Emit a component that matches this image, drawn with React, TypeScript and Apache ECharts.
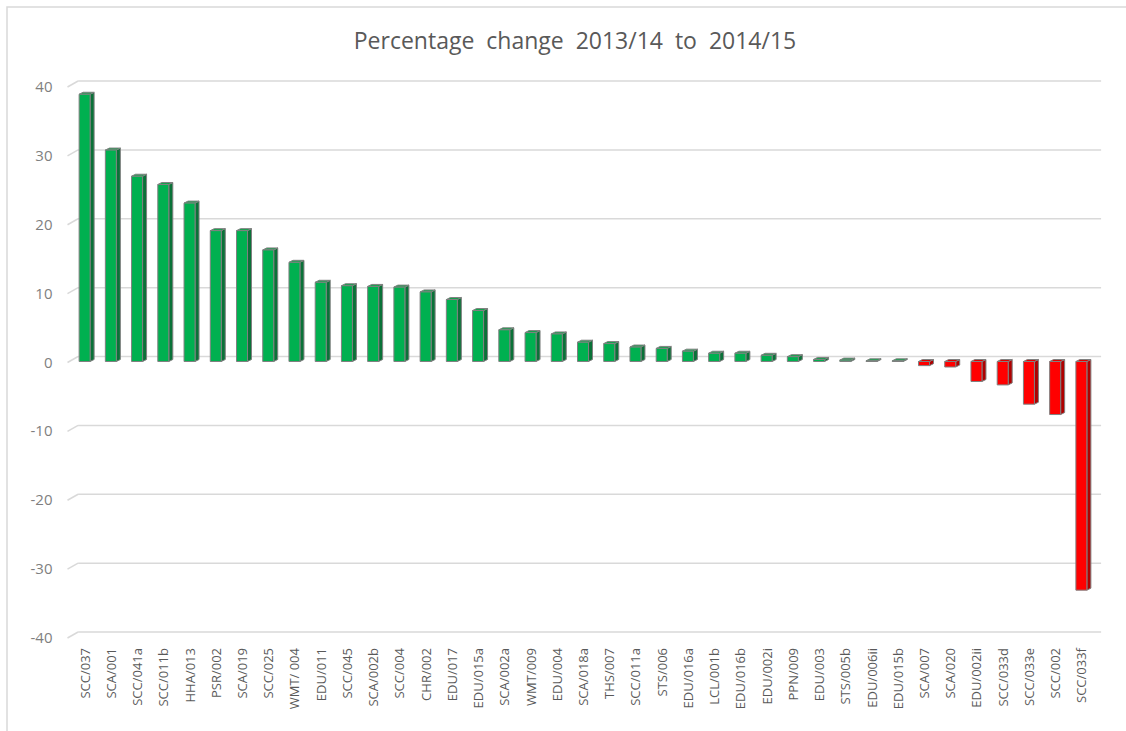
import React, { useEffect, useRef } from "react";
import * as echarts from "echarts";

// Indicator codes, in chart order
const categories: string[] = [
  "SCC/037", "SCA/001", "SCC/041a", "SCC/011b", "HHA/013", "PSR/002", "SCA/019", "SCC/025",
  "WMT/ 004", "EDU/011", "SCC/045", "SCA/002b", "SCC/004", "CHR/002", "EDU/017", "EDU/015a",
  "SCA/002a", "WMT/009", "EDU/004", "SCA/018a", "THS/007", "SCC/011a", "STS/006", "EDU/016a",
  "LCL/001b", "EDU/016b", "EDU/002i", "PPN/009", "EDU/003", "STS/005b", "EDU/006ii", "EDU/015b",
  "SCA/007", "SCA/020", "EDU/002ii", "SCC/033d", "SCC/033e", "SCC/002", "SCC/033f",
];

// Percentage change 2013/14 to 2014/15
const changes: number[] = [
  38.8, 30.7, 26.9, 25.7, 23.0, 19.0, 19.0, 16.2,
  14.4, 11.5, 11.0, 10.9, 10.8, 10.1, 9.0, 7.4,
  4.6, 4.2, 4.0, 2.8, 2.6, 2.1, 1.9, 1.5,
  1.2, 1.2, 0.9, 0.7, 0.3, 0.2, 0.1, 0.1,
  -0.6, -0.8, -2.9, -3.4, -6.2, -7.7, -33.2,
];

// Value-axis ticks
const yTicks: number[] = [-40, -30, -20, -10, 0, 10, 20, 30, 40];

const TITLE = "Percentage  change  2013/14  to  2014/15";

// Depth offsets of the back wall relative to the front plane
const WALL_DX = 6.6;
const WALL_DY = -5;
// 3D column geometry
const BAR_W = 11;
const SIDE_DX = 4;
const SIDE_DY = -2;

const GREEN = { front: "#00b050", side: "#0a7238", top: "#14a04c" };
const RED = { front: "#ff0000", side: "#b00000", top: "#e00000" };
const EDGE = "#808080";

export default function App() {
  const ref = useRef<HTMLDivElement>(null);

  useEffect(() => {
    if (!ref.current) return;
    const chart = echarts.init(ref.current, undefined, { renderer: "svg" });

    // Back-wall gridlines plus the short floor-edge stubs on the left
    const wallRender = (params: any, api: any) => {
      const cs = params.coordSys;
      const v = api.value(0);
      const y = api.coord([0, v])[1];
      const x0 = cs.x + WALL_DX;
      const x1 = cs.x + cs.width + WALL_DX;
      const lineStyle = { stroke: "#d9d9d9", lineWidth: 1.5, fill: null };
      return {
        type: "group",
        children: [
          { type: "line", shape: { x1: x0, y1: y + WALL_DY, x2: x1, y2: y + WALL_DY }, style: lineStyle },
          { type: "line", shape: { x1: cs.x - 4, y1: y + 1, x2: x0, y2: y + WALL_DY }, style: lineStyle },
        ],
      };
    };

    // 3D column: right side face, top face, then the front face
    const barRender = (_params: any, api: any) => {
      const idx = api.value(0);
      const v = api.value(1);
      const pv = api.coord([idx, v]);
      const p0 = api.coord([idx, 0]);
      const c = v >= 0 ? GREEN : RED;
      const xl = pv[0] - BAR_W / 2;
      const xr = xl + BAR_W;
      const yTop = Math.min(pv[1], p0[1]);
      const yBot = Math.max(pv[1], p0[1]);
      const stroke = { stroke: EDGE, lineWidth: 1 };
      return {
        type: "group",
        children: [
          {
            type: "polygon",
            shape: {
              points: [
                [xr, yTop], [xr + SIDE_DX, yTop + SIDE_DY],
                [xr + SIDE_DX, yBot + SIDE_DY], [xr, yBot],
              ],
            },
            style: { fill: c.side, ...stroke },
          },
          {
            type: "polygon",
            shape: {
              points: [
                [xl, yTop], [xl + SIDE_DX, yTop + SIDE_DY],
                [xr + SIDE_DX, yTop + SIDE_DY], [xr, yTop],
              ],
            },
            style: { fill: c.top, ...stroke },
          },
          {
            type: "rect",
            shape: { x: xl, y: yTop, width: BAR_W, height: Math.max(yBot - yTop, 0.5) },
            style: { fill: c.front, ...stroke },
          },
        ],
      };
    };

    chart.setOption({
      animation: false,
      backgroundColor: "#ffffff",
      textStyle: { fontFamily: "Open Sans" },
      title: {
        text: TITLE,
        left: 570,
        top: 23,
        textAlign: "center",
        textStyle: { fontFamily: "Open Sans", fontSize: 23, fontWeight: "normal", color: "#595959" },
      },
      graphic: [
        {
          type: "rect",
          shape: { x: 7, y: 7, width: 1140, height: 760 },
          style: { fill: null, stroke: "#d9d9d9", lineWidth: 1.5 },
          silent: true,
        },
      ],
      grid: { left: 71.5, right: 31.5, top: 86, bottom: 94 },
      xAxis: {
        type: "category",
        data: categories,
        axisLine: { show: false },
        axisTick: { show: false },
        axisLabel: {
          rotate: 90,
          interval: 0,
          margin: 11,
          fontSize: 13,
          color: "#595959",
          fontFamily: "Open Sans",
        },
        splitLine: { show: false },
      },
      yAxis: {
        type: "value",
        min: -40,
        max: 40,
        interval: 10,
        axisLine: { show: false },
        axisTick: { show: false },
        splitLine: { show: false },
        axisLabel: { margin: 19, fontSize: 15, color: "#7f7f7f", fontFamily: "Open Sans" },
      },
      series: [
        {
          type: "custom",
          name: "wall",
          silent: true,
          z: 1,
          renderItem: wallRender,
          data: yTicks.map((t) => [t]),
          encode: { y: 0 },
        },
        {
          type: "custom",
          name: "change",
          z: 2,
          renderItem: barRender,
          data: changes.map((v, i) => [i, v]),
          encode: { x: 0, y: 1 },
        },
      ],
    });

    return () => chart.dispose();
  }, []);

  return (
    <div
      ref={ref}
      style={{ position: "fixed", left: 0, top: 0, width: 1126, height: 731 }}
    />
  );
}
